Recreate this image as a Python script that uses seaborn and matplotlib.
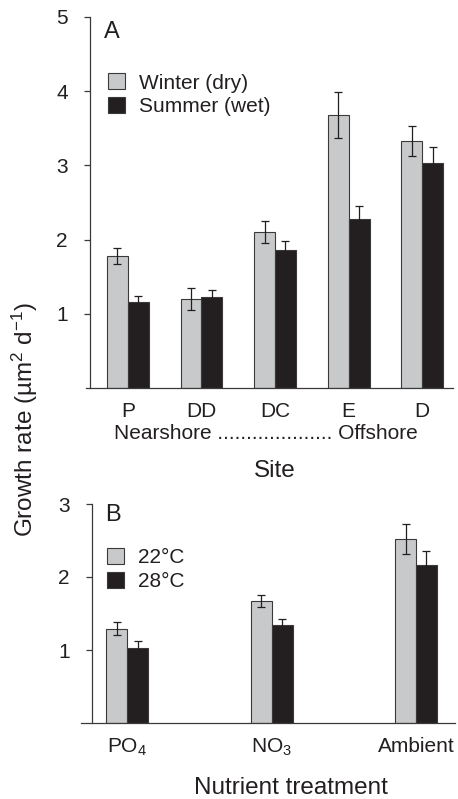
import seaborn as sns
import matplotlib.pyplot as plt
import pandas as pd

# panel A: growth rate per site and season
sites = ["P", "DD", "DC", "E", "D"]
winter_mean = [1.78, 1.20, 2.10, 3.68, 3.33]
winter_err = [0.11, 0.15, 0.15, 0.31, 0.20]
summer_mean = [1.16, 1.22, 1.86, 2.28, 3.03]
summer_err = [0.08, 0.10, 0.12, 0.17, 0.22]
seasons = ["Winter (dry)", "Summer (wet)"]

# panel B: growth rate per nutrient treatment and temperature
treatments = ["PO$_4$", "NO$_3$", "Ambient"]
t22_mean = [1.29, 1.67, 2.52]
t22_err = [0.09, 0.08, 0.20]
t28_mean = [1.03, 1.34, 2.16]
t28_err = [0.10, 0.08, 0.20]
temps = ["22°C", "28°C"]

light = "#c8c9cb"
dark = "#231f20"
edge = "#3a3a3a"

sns.set_style("ticks")
plt.rcParams["font.family"] = ["Liberation Sans", "DejaVu Sans"]
plt.rcParams["mathtext.fontset"] = "custom"
plt.rcParams["mathtext.rm"] = "Liberation Sans"
plt.rcParams["mathtext.it"] = "Liberation Sans:italic"
plt.rcParams["text.color"] = "#231f20"
plt.rcParams["axes.edgecolor"] = edge
plt.rcParams["xtick.color"] = edge
plt.rcParams["ytick.color"] = edge
plt.rcParams["xtick.labelcolor"] = "#231f20"
plt.rcParams["ytick.labelcolor"] = "#231f20"

df_a = pd.DataFrame({
    "site": sites * 2,
    "rate": winter_mean + summer_mean,
    "season": [seasons[0]] * len(sites) + [seasons[1]] * len(sites),
})
df_b = pd.DataFrame({
    "treatment": treatments * 2,
    "rate": t22_mean + t28_mean,
    "temp": [temps[0]] * len(treatments) + [temps[1]] * len(treatments),
})

W, H = 458, 799
fig = plt.figure(figsize=(W / 100, H / 100), dpi=100)
ax_a = fig.add_axes([86 / W, 1 - 388 / H, 367 / W, 371 / H])
ax_b = fig.add_axes([81 / W, 1 - 723 / H, 374 / W, 219 / H])


def draw_panel(ax, df, x, hue, errs, width, xlim, ylim, yspine_px, axw_px, leg_anchor):
    sns.barplot(data=df, x=x, y="rate", hue=hue, ax=ax,
                palette=[light, dark], width=width, gap=0,
                edgecolor=edge, linewidth=0.8, errorbar=None, saturation=1)
    # error bars centred on the bars seaborn drew
    for cont, err in zip(ax.containers, errs):
        xs = [p.get_x() + p.get_width() / 2 for p in cont.patches]
        ys = [p.get_height() for p in cont.patches]
        ax.errorbar(xs, ys, yerr=err, fmt="none", ecolor=dark,
                    elinewidth=0.9, capsize=3, capthick=0.9, zorder=3)
    ax.set_xlim(*xlim)
    ax.set_ylim(*ylim)
    ax.set_yticks(range(1, ylim[1] + 1))
    sns.despine(ax=ax)
    ax.spines["left"].set_position(("axes", yspine_px / axw_px))
    for s in ["left", "bottom"]:
        ax.spines[s].set_linewidth(0.9)
    ax.tick_params(axis="y", length=4, width=0.9, pad=12, labelsize=15)
    ax.tick_params(axis="x", length=0, pad=10, labelsize=15)
    ax.set_ylabel("")
    ax.set_xlabel("")
    ax.legend(loc="upper left", frameon=False, fontsize=15,
              handlelength=0.8, handleheight=0.8, handletextpad=0.7,
              labelspacing=0.22, borderpad=0, borderaxespad=0,
              bbox_to_anchor=leg_anchor)


draw_panel(ax_a, df_a, "site", "season", [winter_err, summer_err], 0.57,
           (-0.57, 4.42), (0, 5), 4, 367, (0.06, 0.848))
ax_a.annotate("Nearshore .................... Offshore", xy=(0.49, 0),
              xycoords="axes fraction", xytext=(0, -46 / 1.389),
              textcoords="offset points", ha="center", va="center", fontsize=15)
ax_a.annotate("Site", xy=(0.515, 0), xycoords="axes fraction",
              xytext=(0, -83 / 1.389), textcoords="offset points",
              ha="center", va="center", fontsize=17.5)
ax_a.text(0.05, 0.96, "A", transform=ax_a.transAxes, fontsize=17,
          ha="left", va="center")

draw_panel(ax_b, df_b, "treatment", "temp", [t22_err, t28_err], 0.29,
           (-0.32, 2.27), (0, 3), 11, 374, (0.07, 0.80))
ax_b.annotate("Nutrient treatment", xy=(0.56, 0), xycoords="axes fraction",
              xytext=(0, -65 / 1.389), textcoords="offset points",
              ha="center", va="center", fontsize=17.5)
ax_b.text(0.065, 0.95, "B", transform=ax_b.transAxes, fontsize=17,
          ha="left", va="center")

fig.text(25 / W, 1 - 420 / H, "Growth rate (µm$^{2}$ d$^{-1}$)", rotation=90,
         ha="center", va="center", fontsize=17.5)

fig.savefig("out.png", dpi=100)
